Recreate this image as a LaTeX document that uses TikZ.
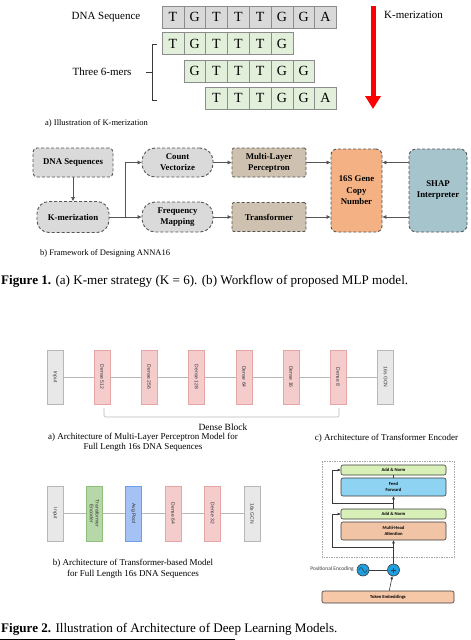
\documentclass[tikz,border=0pt]{standalone}
\usepackage{fontspec}
\setmainfont{Liberation Serif}
\newfontfamily\sansf{Liberation Sans}
\newfontfamily\calib{Carlito}
\usetikzlibrary{arrows.meta,calc}
\definecolor{cgray}{HTML}{D9D9D9}
\definecolor{cgreen}{HTML}{E2EFDA}
\definecolor{cborder}{HTML}{8C8C8C}
\definecolor{fgray}{HTML}{DADADA}
\definecolor{ftan}{HTML}{CFC1AF}
\definecolor{forange}{HTML}{F4B183}
\definecolor{fblue}{HTML}{A6C4CC}
\definecolor{fline}{HTML}{555555}
\definecolor{lgray}{HTML}{E8E8E8}
\definecolor{lgrayb}{HTML}{B7B7B7}
\definecolor{lpink}{HTML}{F4CCCC}
\definecolor{lpinkb}{HTML}{E6A5A5}
\definecolor{lgreen}{HTML}{B6D7A8}
\definecolor{lgreenb}{HTML}{8FBF7A}
\definecolor{lblue}{HTML}{A4C2F4}
\definecolor{lblueb}{HTML}{6D9EEB}
\definecolor{tgreen}{HTML}{D9EFB8}
\definecolor{tblue}{HTML}{8ED3F2}
\definecolor{tsalmon}{HTML}{F2C4A6}
\definecolor{ttoken}{HTML}{F6C8A8}
\definecolor{tcirc}{HTML}{1E9FE0}
\definecolor{tdark}{HTML}{3A3A3A}
\begin{document}
\begin{tikzpicture}[x=1pt,y=-1pt,
  cellA/.style={draw=cborder, fill=cgray, minimum width=21.8pt, minimum height=22pt, inner sep=0pt, line width=0.6pt, font=\fontsize{14}{14}\selectfont},
  cellB/.style={draw=cborder, fill=cgreen, minimum width=21.8pt, minimum height=22pt, inner sep=0pt, line width=0.6pt, font=\fontsize{14}{14}\selectfont},
  fbox/.style={draw=fline, dash pattern=on 3pt off 2pt, line width=0.9pt, inner sep=0pt, align=center, font=\fontsize{8.8}{11}\selectfont\bfseries},
  farr/.style={draw=fline, line width=0.7pt, -{Triangle[length=4pt,width=3.5pt]}},
  layer/.style={draw=#1, line width=0.6pt, minimum width=54pt, minimum height=16pt, inner sep=0pt, rotate=-90, align=center, font=\fontsize{5}{5.7}\selectfont\sansf, text=black!80},
  tbox/.style={draw=tdark, line width=0.6pt, rounded corners=2pt, minimum width=105pt, inner sep=0pt, align=center, font=\fontsize{4.6}{6.5}\selectfont\calib\bfseries},
  tarr/.style={draw=tdark, line width=0.6pt, -{Triangle[length=3pt,width=2.5pt]}},
  captxt/.style={inner sep=0pt, align=center}
]
\useasboundingbox (0,0) rectangle (471,640);
% ---------- a) K-merization
\node[captxt, font=\fontsize{11}{11}\selectfont] (dnalabel) at (106,17) {DNA Sequence};
\foreach \l [count=\i from 0] in {T,G,T,T,T,G,G,A}
  \node[cellA] (ra\i) at ({162+21.8*(\i+0.5)},17) {\l};
\foreach \l [count=\i from 0] in {T,G,T,T,T,G}
  \node[cellB] (rb\i) at ({162+21.8*(\i+0.5)},43.5) {\l};
\foreach \l [count=\i from 0] in {G,T,T,T,G,G}
  \node[cellB] (rc\i) at ({183.8+21.8*(\i+0.5)},71) {\l};
\foreach \l [count=\i from 0] in {T,T,T,G,G,A}
  \node[cellB] (rd\i) at ({205.6+21.8*(\i+0.5)},98) {\l};
\node[captxt, font=\fontsize{11}{11}\selectfont] (threelabel) at (102,72) {Three 6-mers};
\draw[tdark, line width=0.7pt] (157,44) -- (152,44) -- (152,100) -- (157,100);
\draw[tdark, line width=0.7pt] (146,72) -- (152,72);
\coordinate (ktop) at (373,6);
\coordinate (kbot) at (373,109);
\draw[red, line width=5pt, -{Triangle[width=15pt,length=13pt]}] (ktop) -- (kbot);
\node[captxt, anchor=west, font=\fontsize{11}{11}\selectfont] (klabel) at (384,15) {K-merization};
\node[captxt, anchor=west, font=\fontsize{8.5}{8.5}\selectfont] (capa) at (45,123) {a) Illustration of K-merization};
% ---------- b) Framework
\node[fbox, fill=fgray, rounded corners=4pt, minimum width=80pt, minimum height=29pt] (dna) at (73,162.5) {DNA Sequences};
\node[fbox, fill=fgray, rounded corners=12pt, minimum width=72pt, minimum height=31pt] (kmer) at (73,217) {K-merization};
\node[fbox, fill=fgray, rounded corners=13pt, minimum width=71pt, minimum height=29pt] (count) at (177.5,162.5) {Count\\Vectorize};
\node[fbox, fill=fgray, rounded corners=13pt, minimum width=71pt, minimum height=30pt] (freq) at (177.5,217) {Frequency\\Mapping};
\node[fbox, fill=ftan, rounded corners=1.5pt, minimum width=74pt, minimum height=29pt] (mlp) at (269,162.5) {Multi-Layer\\Perceptron};
\node[fbox, fill=ftan, rounded corners=1.5pt, minimum width=74pt, minimum height=29pt] (trans) at (269,217) {Transformer};
\node[fbox, fill=forange, rounded corners=6pt, minimum width=51pt, minimum height=83pt, font=\fontsize{8.8}{11.5}\selectfont\bfseries] (gcn) at (356.5,190.5) {16S Gene\\Copy\\Number};
\node[fbox, fill=fblue, rounded corners=7pt, minimum width=58pt, minimum height=83pt] (shap) at (438,190.5) {SHAP\\Interpreter};
\coordinate (split) at (125,217);
\draw[farr] (dna) -- (kmer);
\draw[farr] (kmer) -- (freq);
\draw[farr] (split) |- (count.west);
\draw[farr] (count) -- (mlp);
\draw[farr] (freq) -- (trans);
\draw[farr] (mlp.east) -- (mlp.east -| gcn.west);
\draw[farr] (trans.east) -- (trans.east -| gcn.west);
\draw[farr] (mlp.east -| shap.west) -- (mlp.east -| gcn.east);
\draw[farr] (trans.east -| shap.west) -- (trans.east -| gcn.east);
\node[captxt, anchor=west, font=\fontsize{8.5}{8.5}\selectfont] (capb) at (40,253) {b) Framework of Designing ANNA16};
\node[captxt, anchor=west, font=\fontsize{13.1}{13.1}\selectfont] (fig1) at (1,281) {\textbf{Figure 1.} (a) K-mer strategy (K = 6). (b) Workflow of proposed MLP model.};
% ---------- Figure 2 a) MLP
\node[layer=lgrayb, fill=lgray] (in1) at (55,377) {Input};
\node[layer=lpinkb, fill=lpink] (d512) at (102,377) {Dense 512};
\node[layer=lpinkb, fill=lpink] (d256) at (149,377) {Dense 256};
\node[layer=lpinkb, fill=lpink] (d128) at (196.5,377) {Dense 128};
\node[layer=lpinkb, fill=lpink] (d64) at (244,377) {Dense 64};
\node[layer=lpinkb, fill=lpink] (d16) at (291,377) {Dense 16};
\node[layer=lpinkb, fill=lpink] (d8) at (338,377) {Dense 8};
\node[layer=lgrayb, fill=lgray] (out1) at (385.5,377) {16s GCN};
\draw[lgrayb, line width=0.6pt] (in1) -- (d512) -- (d256) -- (d128) -- (d64) -- (d16) -- (d8) -- (out1);
\draw[lgrayb, line width=0.6pt, rounded corners=2pt] (104,408) -- (104,417) -- (339,417) -- (339,408);
\node[captxt, font=\fontsize{9.5}{9.5}\selectfont] (dblock) at (223,427) {Dense Block};
\node[captxt, font=\fontsize{9}{10}\selectfont] (capf2a) at (143,442) {a) Architecture of Multi-Layer Perceptron Model for\\Full Length 16s DNA Sequences};
\node[captxt, font=\fontsize{9}{9}\selectfont] (capf2c) at (386.5,438) {c) Architecture of Transformer Encoder};
% ---------- Figure 2 b) transformer model
\node[layer=lgrayb, fill=lgray, minimum width=55pt] (in2) at (55,513.5) {Input};
\node[layer=lgreenb, fill=lgreen, minimum width=55pt] (te) at (94.5,513.5) {Transformer\\Encoder};
\node[layer=lblueb, fill=lblue, minimum width=55pt] (ap) at (133.5,513.5) {Avg Pool};
\node[layer=lpinkb, fill=lpink, minimum width=55pt] (e64) at (173,513.5) {Dense 64};
\node[layer=lpinkb, fill=lpink, minimum width=55pt] (e32) at (212.5,513.5) {Dense 32};
\node[layer=lgrayb, fill=lgray, minimum width=55pt] (out2) at (252,513.5) {16s GCN};
\draw[lgrayb, line width=0.6pt] (in2) -- (te) -- (ap) -- (e64) -- (e32) -- (out2);
\node[captxt, font=\fontsize{9}{11}\selectfont] (capf2b) at (133,568.5) {b) Architecture of Transformer-based Model\\for Full Length 16s DNA Sequences};
% ---------- c) Transformer encoder
\draw[gray!70, line width=0.5pt, dash pattern=on 1.5pt off 1pt] (322,461) rectangle (454,557);
\node[tbox, fill=tgreen, minimum height=10pt] (an2) at (393.5,470) {Add \& Norm};
\node[tbox, fill=tblue, minimum height=18pt] (ff) at (393.5,487) {Feed\\Forward};
\node[tbox, fill=tgreen, minimum height=10pt] (an1) at (393.5,514) {Add \& Norm};
\node[tbox, fill=tsalmon, minimum height=18pt] (mha) at (393.5,531) {Multi-Head\\Attention};
\node[tbox, fill=ttoken, minimum width=132pt, minimum height=12pt] (tok) at (388,597) {Token Embeddings};
\node[circle, draw=tdark, fill=tcirc, line width=0.6pt, minimum size=12pt, inner sep=0pt] (plus) at (393.5,570) {};
\node[circle, draw=tdark, fill=tcirc, line width=0.6pt, minimum size=12pt, inner sep=0pt] (sine) at (363,570) {};
\draw[tdark, line width=0.5pt] ($(plus)+(-2.5,0)$) -- ($(plus)+(2.5,0)$) ($(plus)+(0,-2.5)$) -- ($(plus)+(0,2.5)$);
\draw[tdark, line width=0.5pt] ($(sine)+(-4,0)$) sin ++(2,-2.5) cos ++(2,2.5) sin ++(2,2.5) cos ++(2,-2.5);
\draw[tdark, line width=0.6pt] (sine) -- (plus);
\node[captxt, anchor=east, font=\fontsize{5.5}{5.5}\selectfont\calib, text=tdark] (pe) at (354,569) {Positional Encoding};
\draw[tarr] (tok) -- (plus);
\draw[tarr] (plus) -- (mha);
\draw[tarr] (an1) -- (ff);
\draw[tdark, line width=0.6pt] (ff) -- (an2);
\coordinate (r1) at (393.5,547);
\coordinate (l1) at (332,547);
\coordinate (r2) at (393.5,503);
\coordinate (l2) at (332,503);
\draw[tarr] (r1) -- (l1) |- (an1.west);
\draw[tarr] (r2) -- (l2) |- (an2.west);
% ---------- Figure 2 caption
\node[captxt, anchor=west, font=\fontsize{13.1}{13.1}\selectfont] (fig2) at (1,629) {\textbf{Figure 2.} Illustration of Architecture of Deep Learning Models.};
\coordinate (ul1) at (0,639);
\coordinate (ul2) at (235,639);
\draw[black, line width=0.8pt] (ul1) -- (ul2);
\end{tikzpicture}
\end{document}
